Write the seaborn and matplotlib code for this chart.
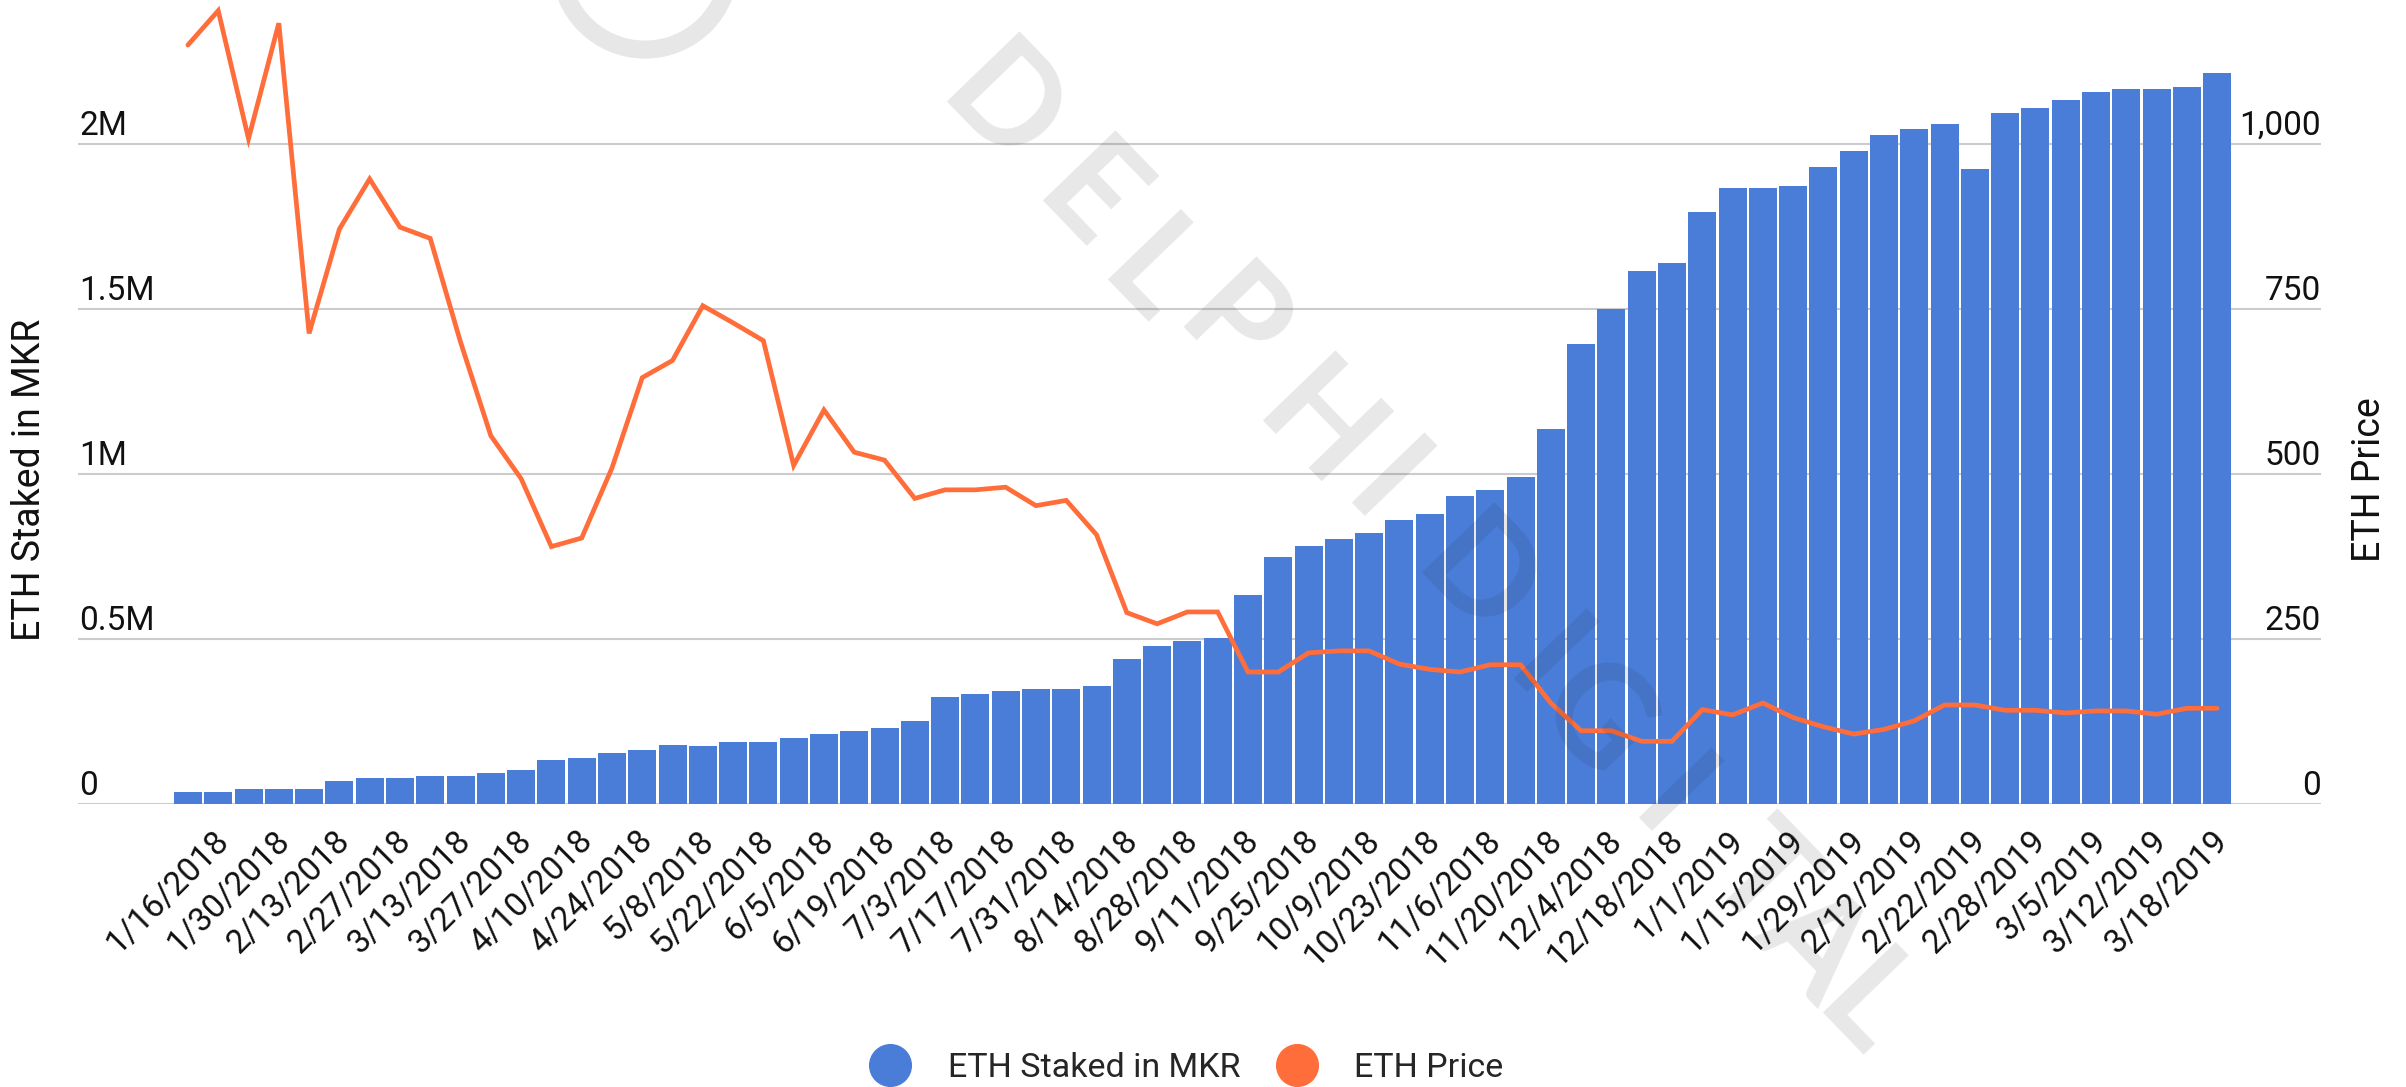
import matplotlib
matplotlib.use("Agg")
import matplotlib.pyplot as plt
import matplotlib.transforms as mtransforms
from matplotlib.lines import Line2D
from matplotlib.patches import Circle
import seaborn as sns
import pandas as pd
import numpy as np

# weekly snapshots (last few are irregular)
dates = [
    "1/16/2018", "1/23/2018", "1/30/2018", "2/6/2018", "2/13/2018", "2/20/2018",
    "2/27/2018", "3/6/2018", "3/13/2018", "3/20/2018", "3/27/2018", "4/3/2018",
    "4/10/2018", "4/17/2018", "4/24/2018", "5/1/2018", "5/8/2018", "5/15/2018",
    "5/22/2018", "5/29/2018", "6/5/2018", "6/12/2018", "6/19/2018", "6/26/2018",
    "7/3/2018", "7/10/2018", "7/17/2018", "7/24/2018", "7/31/2018", "8/7/2018",
    "8/14/2018", "8/21/2018", "8/28/2018", "9/4/2018", "9/11/2018", "9/18/2018",
    "9/25/2018", "10/2/2018", "10/9/2018", "10/16/2018", "10/23/2018", "10/30/2018",
    "11/6/2018", "11/13/2018", "11/20/2018", "11/27/2018", "12/4/2018", "12/11/2018",
    "12/18/2018", "12/25/2018", "1/1/2019", "1/8/2019", "1/15/2019", "1/22/2019",
    "1/29/2019", "2/5/2019", "2/12/2019", "2/19/2019", "2/22/2019", "2/25/2019",
    "2/28/2019", "3/2/2019", "3/5/2019", "3/8/2019", "3/12/2019", "3/15/2019",
    "3/18/2019", "3/25/2019",
]

# ETH staked in MKR, millions
staked_m = [
    0.035, 0.035, 0.045, 0.045, 0.045, 0.070, 0.079, 0.079, 0.085, 0.085,
    0.094, 0.103, 0.132, 0.140, 0.156, 0.165, 0.180, 0.175, 0.189, 0.189,
    0.199, 0.211, 0.221, 0.229, 0.251, 0.324, 0.334, 0.343, 0.348, 0.348,
    0.358, 0.440, 0.480, 0.494, 0.504, 0.634, 0.747, 0.781, 0.804, 0.820,
    0.860, 0.878, 0.933, 0.951, 0.990, 1.137, 1.394, 1.501, 1.614, 1.638,
    1.793, 1.866, 1.866, 1.874, 1.930, 1.978, 2.027, 2.044, 2.060, 1.925,
    2.094, 2.110, 2.134, 2.157, 2.167, 2.167, 2.174, 2.216,
]

eth_price = [
    1150, 1202, 1008, 1183, 713, 871, 947, 874, 857, 700,
    558, 493, 390, 403, 509, 646, 672, 755, 729, 702,
    513, 597, 533, 521, 463, 476, 476, 480, 452, 460,
    408, 290, 273, 291, 291, 200, 200, 229, 232, 232,
    212, 204, 200, 211, 211, 153, 111, 111, 95, 95,
    143, 135, 153, 131, 117, 106, 113, 126, 150, 150,
    142, 142, 138, 141, 141, 136, 145, 145,
]

left_ticks = [0, 0.5e6, 1e6, 1.5e6, 2e6]
left_labels = ["0", "0.5M", "1M", "1.5M", "2M"]
right_ticks = [0, 250, 500, 750, 1000]
right_labels = ["0", "250", "500", "750", "1,000"]

BLUE = "#4A7DD8"
ORANGE = "#FF6D3A"
GRID = "#CCCCCC"

sns.set_theme(style="white")
plt.rcParams["font.family"] = ["Roboto", "DejaVu Sans"]

W, H = 2406, 1087
fig = plt.figure(figsize=(W / 100, H / 100), dpi=100)
ax = fig.add_axes([78 / W, 1 - 804 / H, (2321 - 78) / W, 804 / H])

df = pd.DataFrame({"date": dates, "staked": np.array(staked_m) * 1e6, "price": eth_price})

for v in left_ticks:
    ax.axhline(v, color=GRID, lw=1.5, zorder=0)

sns.barplot(data=df, x="date", y="staked", color=BLUE, saturation=1,
            width=0.925, linewidth=0, ax=ax, zorder=2)

ax2 = ax.twinx()
sns.lineplot(x=np.arange(len(dates)), y=df["price"], ax=ax2, color=ORANGE)
for ln in ax2.get_lines():
    ln.set_linewidth(3.4)
    ln.set_solid_joinstyle("miter")

ax.set_ylim(0, 804 / 330 * 1e6)
ax2.set_ylim(0, 804 / 0.66)
ax.set_xlim(-3.63, 70.43)
ax2.set_xlim(-3.63, 70.43)

for a in (ax, ax2):
    a.set_xlabel("")
    a.set_ylabel("")
    a.set_yticks([])
    for s in a.spines.values():
        s.set_visible(False)
    a.patch.set_visible(False)

# y tick labels sit just above their gridlines
off = mtransforms.ScaledTranslation(0, 0.09, fig.dpi_scale_trans)
tl = mtransforms.blended_transform_factory(ax.transAxes, ax.transData) + off
for v, lab in zip(left_ticks, left_labels):
    ax.text(0.0005, v, lab, transform=tl, ha="left", va="baseline", fontsize=24, color="#111")
tr = mtransforms.blended_transform_factory(ax2.transAxes, ax2.transData) + off
for v, lab in zip(right_ticks, right_labels):
    ax2.text(1.0, v, lab, transform=tr, ha="right", va="baseline", fontsize=24, color="#111")

# x tick labels every other bar
ax.set_xticks(range(0, len(dates), 2))
ax.set_xticklabels(dates[::2], rotation=45, ha="right", va="center",
                   rotation_mode="anchor", fontsize=24, color="#111")
ax.tick_params(axis="x", length=0, pad=0)
shift = mtransforms.ScaledTranslation(0.36, -0.32, fig.dpi_scale_trans)
for lbl in ax.get_xticklabels():
    lbl.set_transform(lbl.get_transform() + shift)

fig.text(30 / W, 1 - 480 / H, "ETH Staked in MKR", rotation=90, ha="center",
         va="center", fontsize=27, color="#111")
fig.text(2369 / W, 1 - 480 / H, "ETH Price", rotation=90, ha="center",
         va="center", fontsize=27, color="#111")

handles = [Line2D([0], [0], marker="o", ls="", ms=30, color=BLUE),
           Line2D([0], [0], marker="o", ls="", ms=30, color=ORANGE)]
fig.legend(handles, ["ETH Staked in MKR", "ETH Price"], loc="center",
           bbox_to_anchor=(1185 / W, 1 - 1068 / H), ncol=2, frameon=False,
           fontsize=24.5, handlelength=1.4, handletextpad=1.0, columnspacing=0.95)

# watermark
wm_color = "#1a1a1a"
ring = Circle((6.45, (H + 35) / 100), 0.846, transform=fig.dpi_scale_trans,
              fill=False, lw=13, edgecolor=wm_color, alpha=0.1, zorder=10)
fig.add_artist(ring)
wm_letters = list("DELPHIDIGITAL")
wm_pos = [(1001, 111), (1088, 201), (1150, 277), (1230, 329), (1317, 430), (1383, 489),
          (1476, 582), (1545, 665), (1594, 721), (1670, 804), (1760, 880), (1812, 945),
          (1865, 1010)]
for ch, (px, py) in zip(wm_letters, wm_pos):
    fig.text(px / W, 1 - py / H, ch, rotation=-46, rotation_mode="anchor",
             ha="center", va="center", fontsize=100, fontweight="bold",
             family=["Lato", "DejaVu Sans"], color=wm_color, alpha=0.1, zorder=10)

fig.savefig("out.png", dpi=100)
